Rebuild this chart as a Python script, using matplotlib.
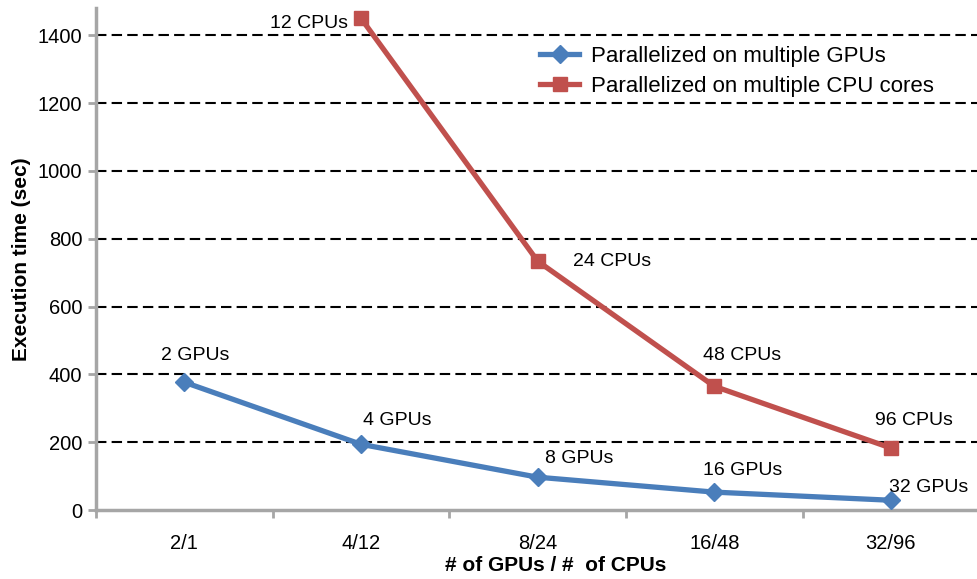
import matplotlib
matplotlib.use("Agg")
import matplotlib.pyplot as plt
import numpy as np

plt.rcParams["font.family"] = ["Liberation Sans", "DejaVu Sans"]

# Data:

categories = ["2/1", "4/12", "8/24", "16/48", "32/96"]
gpu_time = [377, 194, 97, 53, 29]
gpu_labels = ["2 GPUs", "4 GPUs", "8 GPUs", "16 GPUs", "32 GPUs"]
cpu_time = [None, 1450, 734, 365, 183]
cpu_labels = [None, "12 CPUs", "24 CPUs", "48 CPUs", "96 CPUs"]

blue = "#4A7EBB"
red = "#C0504D"
spine_grey = "#A6A6A6"

# Plot:

fig = plt.figure(figsize=(9.77, 5.79), dpi=100)
ax = fig.add_axes([0.0983, 0.119, 0.904, 0.867])

x = np.arange(len(categories))
cpu_x = [i for i, v in zip(x, cpu_time) if v is not None]
cpu_y = [v for v in cpu_time if v is not None]

ax.plot(x, gpu_time, color=blue, lw=3.8, marker="D", ms=9,
        label="Parallelized on multiple GPUs", zorder=3, clip_on=False)
ax.plot(cpu_x, cpu_y, color=red, lw=3.8, marker="s", ms=9.5,
        label="Parallelized on multiple CPU cores", zorder=3, clip_on=False)

# Point labels (offsets in pixels, text centred):

gpu_offsets = [(11, 27), (36, 24), (42, 19), (28, 22), (38, 13)]
for xi, yi, txt, off in zip(x, gpu_time, gpu_labels, gpu_offsets):
    ax.annotate(txt, (xi, yi), xytext=off, textcoords="offset pixels",
                ha="center", va="center", fontsize=14)

cpu_offsets = [None, (-13, -5), (35, 0), (28, 31), (23, 28)]
cpu_align = [None, "right", "left", "center", "center"]
for xi, yi, txt, off, ha in zip(x, cpu_time, cpu_labels, cpu_offsets, cpu_align):
    if txt is None:
        continue
    ax.annotate(txt, (xi, yi), xytext=off, textcoords="offset pixels",
                ha=ha, va="center", fontsize=14)

# Axes:

ax.set_xlim(-0.5, 4.5)
ax.set_ylim(0, 1480)
ax.set_yticks(range(0, 1401, 200))
ax.set_xticks(x)
ax.set_xticklabels(categories)
ax.set_xticks(np.arange(-0.5, 4.6, 1), minor=True)
ax.tick_params(axis="x", which="major", length=0, pad=17, labelsize=14.5)
ax.tick_params(axis="x", which="minor", length=6, width=2,
               color=spine_grey, direction="out")
ax.tick_params(axis="y", length=6, width=2, color=spine_grey,
               labelsize=14.5, pad=4)

for y in range(200, 1401, 200):
    ax.axhline(y, color="black", lw=1.5, ls=(0, (5, 2.5)), zorder=1)

for side in ["top", "right"]:
    ax.spines[side].set_visible(False)
for side in ["left", "bottom"]:
    ax.spines[side].set_color(spine_grey)
    ax.spines[side].set_linewidth(2.5)

ax.set_ylabel("Execution time (sec)", fontsize=15, fontweight="bold",
              va="center")
ax.yaxis.set_label_coords(-0.084, 0.5)
ax.set_xlabel("# of GPUs / #  of CPUs", fontsize=15, fontweight="bold",
              va="center")
ax.xaxis.set_label_coords(0.52, -0.11)

ax.legend(loc="upper left", bbox_to_anchor=(0.503, 0.925), frameon=False,
          fontsize=16, handlelength=1.75, handletextpad=0.55,
          labelspacing=0.42, borderaxespad=0, borderpad=0)

# Save:

plt.savefig("out.png", dpi=100)
plt.close()
